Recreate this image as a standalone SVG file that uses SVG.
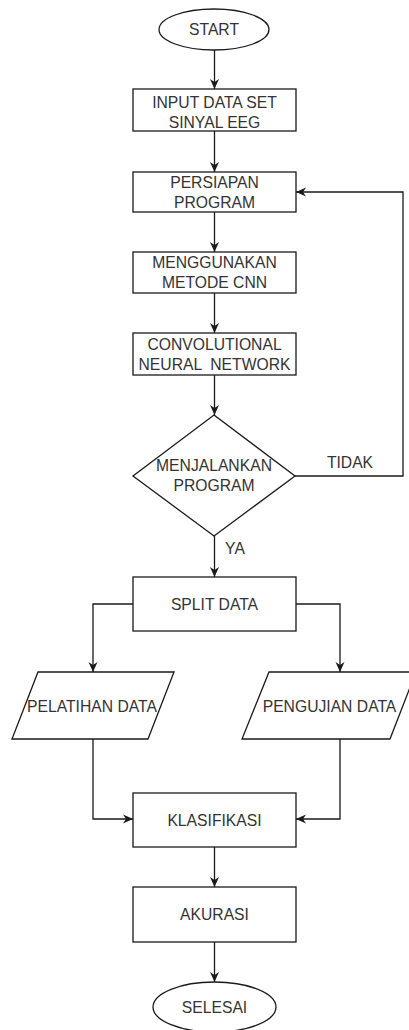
<svg xmlns="http://www.w3.org/2000/svg" width="409" height="1030" viewBox="0 0 409 1030">
<defs>
<style>
.s{fill:#fff;stroke:#1a1a1a;stroke-width:1.3}
.c{fill:none;stroke:#1a1a1a;stroke-width:1.3}
text{font-family:"Liberation Sans",Arial,sans-serif;font-size:15.7px;fill:#333;text-anchor:middle}
</style>
<marker id="a" markerUnits="userSpaceOnUse" markerWidth="10" markerHeight="10" viewBox="0 0 10 10" refX="10" refY="5" orient="auto">
<path d="M0,0.5 L10,5 L0,9.5 L3,5 z" fill="#1a1a1a"/>
</marker>
</defs>
<rect width="409" height="1030" fill="#fff"/>
<g id="connectors">
<line class="c" x1="214.5" y1="50" x2="214.5" y2="89" marker-end="url(#a)"/>
<line class="c" x1="214.5" y1="131" x2="214.5" y2="172" marker-end="url(#a)"/>
<line class="c" x1="214.5" y1="212" x2="214.5" y2="252" marker-end="url(#a)"/>
<line class="c" x1="214.5" y1="293" x2="214.5" y2="333" marker-end="url(#a)"/>
<line class="c" x1="214.5" y1="375" x2="214.5" y2="415" marker-end="url(#a)"/>
<line class="c" x1="214.5" y1="536" x2="214.5" y2="577" marker-end="url(#a)"/>
<polyline class="c" points="295,476 403,476 403,192 296,192" marker-end="url(#a)"/>
<polyline class="c" points="133,604 93,604 93,672" marker-end="url(#a)"/>
<polyline class="c" points="296,604 340,604 340,672" marker-end="url(#a)"/>
<polyline class="c" points="93,739 93,819 133,819" marker-end="url(#a)"/>
<polyline class="c" points="340,739 340,819 296,819" marker-end="url(#a)"/>
<line class="c" x1="214.5" y1="847" x2="214.5" y2="887" marker-end="url(#a)"/>
<line class="c" x1="214.5" y1="942" x2="214.5" y2="982" marker-end="url(#a)"/>
<text x="350" y="467.6">TIDAK</text>
<text x="235" y="553.6">YA</text>
</g>
<g id="start">
<ellipse class="s" cx="214" cy="29.5" rx="55" ry="20.5"/>
<text x="214" y="35.1">START</text>
</g>
<g id="input">
<rect class="s" x="133" y="89" width="163" height="42"/>
<text x="214.5" y="107.6">INPUT DATA SET</text>
<text x="214.5" y="127.6">SINYAL EEG</text>
</g>
<g id="persiapan">
<rect class="s" x="133" y="172" width="163" height="40"/>
<text x="214.5" y="187.6">PERSIAPAN</text>
<text x="214.5" y="207.6">PROGRAM</text>
</g>
<g id="metode">
<rect class="s" x="133" y="252" width="163" height="41"/>
<text x="214.5" y="268.1">MENGGUNAKAN</text>
<text x="214.5" y="288.1">METODE CNN</text>
</g>
<g id="cnn">
<rect class="s" x="133" y="333" width="163" height="42"/>
<text x="214.5" y="349.6">CONVOLUTIONAL</text>
<text x="214.5" y="369.6" xml:space="preserve">NEURAL  NETWORK</text>
</g>
<g id="decision">
<polygon class="s" points="214,415 295,476 214,536 133,476"/>
<text x="214" y="470.6">MENJALANKAN</text>
<text x="214" y="490.6">PROGRAM</text>
</g>
<g id="split">
<rect class="s" x="133" y="577" width="163" height="54"/>
<text x="214.5" y="609.6">SPLIT DATA</text>
</g>
<g id="pelatihan">
<polygon class="s" points="38,672 174,672 148,739 12,739"/>
<text x="92" y="711.6">PELATIHAN DATA</text>
</g>
<g id="pengujian">
<polygon class="s" points="269,672 416,672 390,739 242,739"/>
<text x="329.5" y="711.6">PENGUJIAN DATA</text>
</g>
<g id="klasifikasi">
<rect class="s" x="133" y="793" width="163" height="54"/>
<text x="214.5" y="825.6">KLASIFIKASI</text>
</g>
<g id="akurasi">
<rect class="s" x="133" y="887" width="163" height="55"/>
<text x="214.5" y="919.6">AKURASI</text>
</g>
<g id="selesai">
<ellipse class="s" cx="214.5" cy="1007" rx="61.5" ry="25"/>
<text x="214.5" y="1012.6">SELESAI</text>
</g>
</svg>
